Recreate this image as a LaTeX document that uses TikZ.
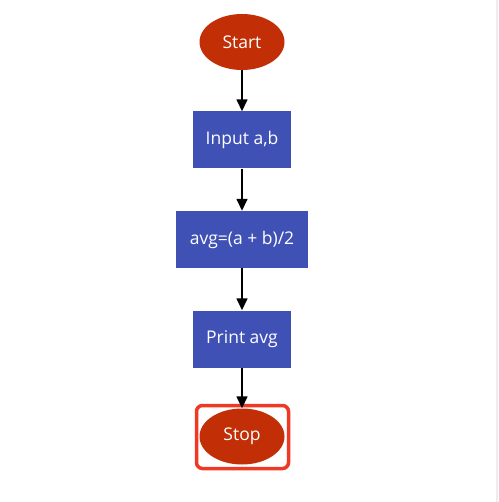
\documentclass[tikz,border=0pt]{standalone}
\usepackage{fontspec}
\setmainfont{Open Sans}
\usetikzlibrary{arrows.meta,shapes.geometric}
\definecolor{termcol}{HTML}{C22F07}
\definecolor{boxcol}{HTML}{3F51B5}
\definecolor{hlcol}{HTML}{EE3A24}
\begin{document}
\begin{tikzpicture}[x=1pt,y=-1pt,
  term/.style={ellipse,fill=termcol,text=white,minimum width=85pt,minimum height=56pt,inner sep=0pt,font=\fontsize{17.5}{21}\selectfont},
  proc/.style={rectangle,fill=boxcol,text=white,minimum height=57pt,inner sep=0pt,font=\fontsize{17.5}{21}\selectfont},
  flow/.style={draw=black,line width=1.5pt,-{Triangle[length=12pt,width=11pt]}}]
\useasboundingbox (0,0) rectangle (498,502);
\fill[white] (0,0) rectangle (498,502);
\draw[draw=black!7,line width=2pt] (497,0) -- (497,502);
\node[term] (start) at (242,42) {Start};
\node[proc,minimum width=98pt] (input) at (242,140) {Input a,b};
\node[proc,minimum width=132pt] (avg) at (242,239.5) {avg=(a + b)/2};
\node[proc,minimum width=98pt] (print) at (242,339) {Print avg};
\node[term] (stop) at (242,436.5) {Stop};
\draw[hlcol,line width=3.5pt,rounded corners=6pt] (196.5,405.5) rectangle (288.5,468.5);
\draw[flow] (start) -- (input);
\draw[flow] (input) -- (avg);
\draw[flow] (avg) -- (print);
\draw[flow] (print) -- (stop);
\end{tikzpicture}
\end{document}
